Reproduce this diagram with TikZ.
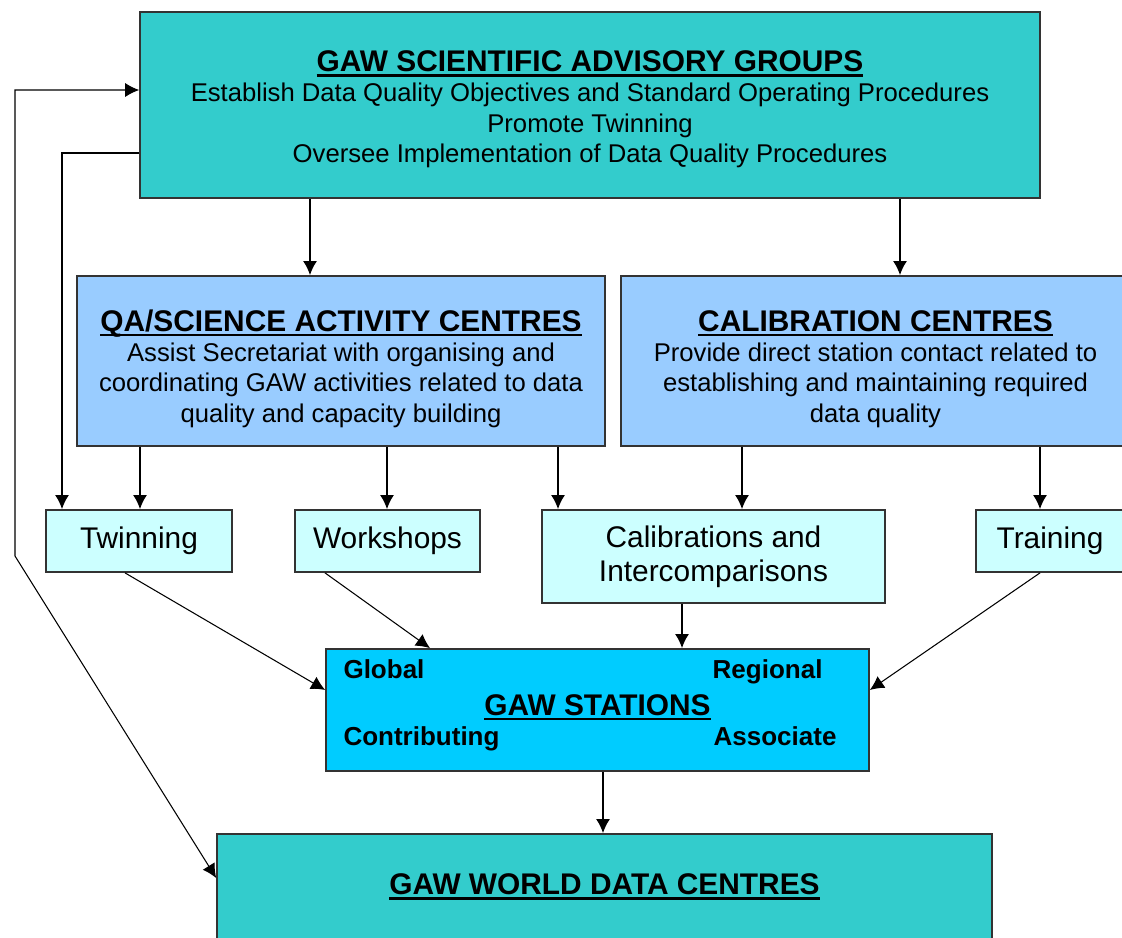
\documentclass[tikz,border=0pt]{standalone}
\usepackage{fontspec}
\setmainfont{Liberation Sans}
\usetikzlibrary{arrows.meta,positioning}
\definecolor{sagteal}{HTML}{33CCCC}
\definecolor{centreblue}{HTML}{99CCFF}
\definecolor{taskcyan}{HTML}{CCFFFF}
\definecolor{stationblue}{HTML}{00CCFF}
% thick underline for the box headings
\newcommand{\ulbar}[1]{\setbox0\hbox{#1}\leavevmode\rlap{\rule[-3pt]{\wd0}{1.5pt}}\box0}
% optional argument: strut height, pushes a multi-line block down
\newcommand{\boxtitle}[2][0pt]{{\fontsize{17pt}{19pt}\selectfont\bfseries\rule{0pt}{#1}\ulbar{#2}}}
\tikzset{
  >={Latex[length=8pt,width=8pt]},
  {base box/.style} ={draw=black!80, line width=1pt, inner sep=0pt,
                      align=center, font=\fontsize{14.6pt}{17.3pt}\selectfont},
  {group box/.style} ={base box, fill=sagteal},
  {centre box/.style} ={base box, fill=centreblue},
  {task box/.style} ={base box, fill=taskcyan, font=\fontsize{17pt}{19.4pt}\selectfont},
  {station box/.style} ={base box, fill=stationblue},
  {class label/.style} ={inner sep=0pt, font=\fontsize{14.8pt}{16pt}\selectfont\bfseries},
  link/.style ={->, line width=1pt},
  {thin link/.style} ={->, line width=0.6pt},
}
\begin{document}
\begin{tikzpicture}[x=0.02cm, y=-0.02cm]
\useasboundingbox (0,0) rectangle (1122,937);
\clip (0,0) rectangle (1122,937);
% boxes
\node[group box, minimum width=18cm, minimum height=3.72cm] (sag) at (590,105)
  {\boxtitle[16.5pt]{GAW SCIENTIFIC ADVISORY GROUPS}\\
   Establish Data Quality Objectives and Standard Operating Procedures\\
   Promote Twinning\\
   Oversee Implementation of Data Quality Procedures};
\node[centre box, minimum width=10.56cm, minimum height=3.4cm] (qa) at (341,361)
  {\boxtitle[20.8pt]{QA/SCIENCE ACTIVITY CENTRES}\\
   Assist Secretariat with organising and\\
   coordinating GAW activities related to data\\
   quality and capacity building};
\node[centre box, minimum width=10.18cm, minimum height=3.4cm] (cal) at (875.5,361)
  {\boxtitle[20.8pt]{CALIBRATION CENTRES}\\
   Provide direct station contact related to\\
   establishing and maintaining required\\
   data quality};
\node[task box, minimum width=3.72cm, minimum height=1.24cm] (twin) at (139,541) {Twinning};
\node[task box, minimum width=3.7cm, minimum height=1.24cm] (work) at (387.5,541) {Workshops};
\node[task box, minimum width=6.86cm, minimum height=1.86cm] (calib) at (713.5,556.5)
  {Calibrations and\\Intercomparisons};
\node[task box, minimum width=2.96cm, minimum height=1.24cm] (train) at (1050,541) {Training};
\node[station box, minimum width=10.86cm, minimum height=2.44cm, text depth=6pt] (stn) at (597.5,710)
  {\boxtitle{GAW STATIONS}};
\node[class label, anchor=base west] (glob) at ([shift={(18,30)}]stn.north west) {Global};
\node[class label, anchor=base east] (reg) at ([shift={(-47,30)}]stn.north east) {Regional};
\node[class label, anchor=base west] (contr) at ([shift={(18,-26)}]stn.south west) {Contributing};
\node[class label, anchor=base east] (assoc) at ([shift={(-33,-26)}]stn.south east) {Associate};
\node[group box, minimum width=15.5cm, minimum height=2.22cm, text depth=6pt] (wdc) at (604.5,889.5)
  {\boxtitle{GAW WORLD DATA CENTRES}};
% links
\coordinate (bend) at (15,556);
\draw[link] (sag.south -| 310,0) -- (qa.north -| 310,0);
\draw[link] (sag.south -| 900,0) -- (cal.north -| 900,0);
\draw[link] (sag.west |- 0,153) -| (twin.north -| 62,0);
\draw[thin link, <->] (sag.west |- 0,90) -| (bend) -- (wdc.west |- 0,878);
\draw[link] (qa.south -| 140,0) -- (twin.north -| 140,0);
\draw[link] (qa.south -| 387,0) -- (work.north -| 387,0);
\draw[link] (qa.south -| 558,0) -- (calib.north -| 558,0);
\draw[link] (cal.south -| 742,0) -- (calib.north -| 742,0);
\draw[link] (cal.south -| 1040,0) -- (train.north -| 1040,0);
\draw[thin link] (twin.south -| 125,0) -- (stn.west |- 0,690);
\draw[thin link] (work.south -| 325,0) -- (stn.north -| 430,0);
\draw[link] (calib.south -| 682,0) -- (stn.north -| 682,0);
\draw[thin link] (train.south -| 1040,0) -- (stn.east |- 0,690);
\draw[link] (stn.south -| 603,0) -- (wdc.north -| 603,0);
\end{tikzpicture}
\end{document}
